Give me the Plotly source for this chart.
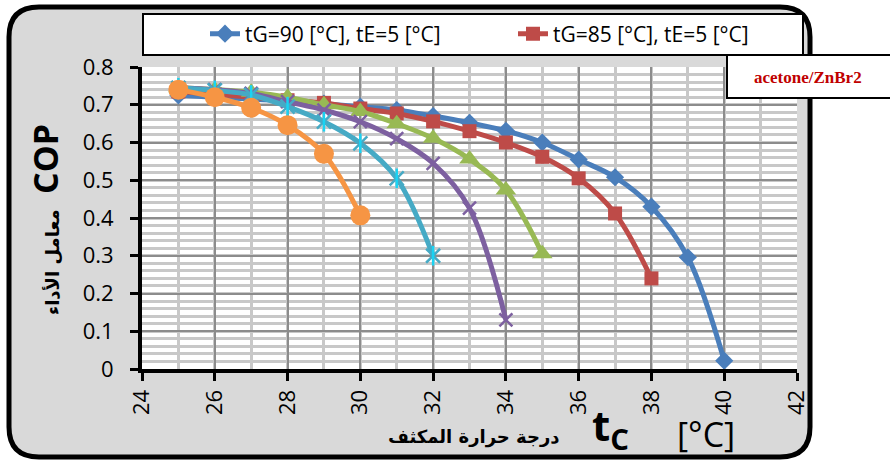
import plotly.graph_objects as go

# ---------------- data ----------------
tc_90 = [25, 26, 27, 28, 29, 30, 31, 32, 33, 34, 35, 36, 37, 38, 39, 40]
cop_90 = [0.725, 0.72, 0.715, 0.71, 0.703, 0.695, 0.686, 0.67, 0.652, 0.631, 0.60, 0.555, 0.508, 0.43, 0.296, 0.022]

tc_85 = [25, 26, 27, 28, 29, 30, 31, 32, 33, 34, 35, 36, 37, 38]
cop_85 = [0.735, 0.728, 0.72, 0.712, 0.705, 0.69, 0.677, 0.656, 0.63, 0.60, 0.562, 0.505, 0.412, 0.24]

tc_g = [25, 26, 27, 28, 29, 30, 31, 32, 33, 34, 35]
cop_g = [0.745, 0.74, 0.733, 0.72, 0.70, 0.682, 0.65, 0.611, 0.556, 0.474, 0.305]

tc_p = [25, 26, 27, 28, 29, 30, 31, 32, 33, 34]
cop_p = [0.745, 0.74, 0.73, 0.708, 0.686, 0.655, 0.61, 0.545, 0.426, 0.13]

tc_t = [25, 26, 27, 28, 29, 30, 31, 32]
cop_t = [0.745, 0.738, 0.726, 0.695, 0.655, 0.598, 0.505, 0.30]

tc_o = [25, 26, 27, 28, 29, 30]
cop_o = [0.74, 0.72, 0.692, 0.646, 0.57, 0.407]

legend_90 = "tG=90 [°C], tE=5 [°C]"
legend_85 = "tG=85 [°C], tE=5 [°C]"
y_ticks = [0, 0.1, 0.2, 0.3, 0.4, 0.5, 0.6, 0.7, 0.8]
y_tick_text = ["0", "0.1", "0.2", "0.3", "0.4", "0.5", "0.6", "0.7", "0.8"]
x_ticks = [24, 26, 28, 30, 32, 34, 36, 38, 40, 42]

# ---------------- geometry helpers (pixel -> paper) ----------------
W, H = 890, 461
ML, MR, MT, MB = 142, 93, 67, 92
PW, PH = W - ML - MR, H - MT - MB


def xp(px):
    return (px - ML) / PW


def yp(py):
    return (H - MB - py) / PH


BLUE = "#4a7ebb"
RED = "#be4b48"
GREEN = "#98b954"
PURPLE = "#7d60a0"
TEAL = "#46aac5"
ORANGE = "#f69544"
LW = 5

fig = go.Figure()
fig.add_trace(go.Scatter(x=tc_90, y=cop_90, name=legend_90, mode="lines+markers",
                         line=dict(color=BLUE, width=LW, shape="spline"),
                         marker=dict(symbol="diamond", size=14, color=BLUE), legend="legend"))
fig.add_trace(go.Scatter(x=tc_85, y=cop_85, name=legend_85, mode="lines+markers",
                         line=dict(color=RED, width=LW, shape="spline"),
                         marker=dict(symbol="square", size=14, color=RED), legend="legend2"))
fig.add_trace(go.Scatter(x=tc_g, y=cop_g, mode="lines+markers", showlegend=False,
                         line=dict(color=GREEN, width=LW, shape="spline"),
                         marker=dict(symbol="triangle-up", size=18, color=GREEN)))
fig.add_trace(go.Scatter(x=tc_p, y=cop_p, mode="lines+markers", showlegend=False,
                         line=dict(color=PURPLE, width=LW, shape="spline"),
                         marker=dict(symbol="x-thin-open", size=13, line=dict(color=PURPLE, width=2.5))))
fig.add_trace(go.Scatter(x=tc_t, y=cop_t, mode="lines+markers", showlegend=False,
                         line=dict(color=TEAL, width=LW, shape="spline"),
                         marker=dict(symbol="x-thin-open", size=14, line=dict(color=TEAL, width=2.5))))
fig.add_trace(go.Scatter(x=tc_t, y=cop_t, mode="markers", showlegend=False,
                         marker=dict(symbol="line-ns-open", size=14, line=dict(color=TEAL, width=2.5))))
fig.add_trace(go.Scatter(x=tc_o, y=cop_o, mode="lines+markers", showlegend=False,
                         line=dict(color=ORANGE, width=LW, shape="spline"),
                         marker=dict(symbol="circle", size=20, color=ORANGE)))

# ---------------- background shapes ----------------
L, T, R, B, rad = 9, 7, 810, 457, 30
rx, ry = rad / PW, rad / PH
path = (
    f"M {xp(L)+rx},{yp(T)} L {xp(R)-rx},{yp(T)} Q {xp(R)},{yp(T)} {xp(R)},{yp(T)-ry} "
    f"L {xp(R)},{yp(B)+ry} Q {xp(R)},{yp(B)} {xp(R)-rx},{yp(B)} "
    f"L {xp(L)+rx},{yp(B)} Q {xp(L)},{yp(B)} {xp(L)},{yp(B)+ry} "
    f"L {xp(L)},{yp(T)-ry} Q {xp(L)},{yp(T)} {xp(L)+rx},{yp(T)} Z"
)
shapes = [
    dict(type="path", xref="paper", yref="paper", path=path, fillcolor="#d9d9d9",
         line=dict(color="black", width=5), layer="below"),
    dict(type="rect", xref="paper", yref="paper", x0=0, x1=1, y0=0, y1=1,
         fillcolor="white", line=dict(width=0), layer="below"),
    dict(type="rect", xref="paper", yref="paper", x0=xp(143), x1=xp(803), y0=yp(55), y1=yp(14),
         fillcolor="white", line=dict(color="black", width=2), layer="below"),
    dict(type="rect", xref="paper", yref="paper", x0=xp(727), x1=xp(900), y0=yp(98), y1=yp(55),
         fillcolor="white", line=dict(color="black", width=2), layer="above"),
]

annotations = [
    dict(text="<b>acetone/ZnBr2</b>", x=xp(808), y=yp(78), xref="paper", yref="paper",
         showarrow=False, xanchor="center", yanchor="middle",
         font=dict(family="Liberation Serif", size=17, color="#c00000")),
    dict(text="<b>COP</b>", x=xp(45), y=yp(159), xref="paper", yref="paper", textangle=-90,
         showarrow=False, xanchor="center", yanchor="middle",
         font=dict(family="Open Sans", size=34, color="black")),
    dict(text="<b>معامل الأداء</b>", x=xp(52), y=yp(262), xref="paper", yref="paper", textangle=-90,
         showarrow=False, xanchor="center", yanchor="middle",
         font=dict(family="DejaVu Sans", size=18, color="black")),
    dict(text="<b>درجة حرارة المكثف</b>", x=xp(474), y=yp(437), xref="paper", yref="paper",
         showarrow=False, xanchor="center", yanchor="middle",
         font=dict(family="DejaVu Sans", size=18, color="black")),
    dict(text="<b>t</b><sub><b>C</b></sub>", x=xp(610), y=yp(427), xref="paper", yref="paper",
         showarrow=False, xanchor="center", yanchor="middle",
         font=dict(family="Open Sans", size=42, color="black")),
    dict(text="[°C]", x=xp(706), y=yp(434), xref="paper", yref="paper",
         showarrow=False, xanchor="center", yanchor="middle",
         font=dict(family="Open Sans", size=34, color="black")),
]

legend_common = dict(bgcolor="rgba(0,0,0,0)", borderwidth=0, orientation="h",
                     xanchor="left", yanchor="middle", xref="paper", yref="paper",
                     font=dict(family="Open Sans", size=21, color="black"))

fig.update_layout(
    width=W, height=H,
    margin=dict(l=ML, r=MR, t=MT, b=MB),
    paper_bgcolor="white", plot_bgcolor="white",
    shapes=shapes, annotations=annotations,
    legend=dict(x=xp(205), y=yp(34), **legend_common),
    legend2=dict(x=xp(513), y=yp(34), **legend_common),
    xaxis=dict(range=[24, 42], tickmode="array", tickvals=x_ticks,
               showgrid=True, gridcolor="#8c8c8c", gridwidth=1.5,
               minor=dict(tickmode="linear", tick0=24, dtick=1, showgrid=True,
                          gridcolor="#c8c8c8", gridwidth=2.5),
               showline=True, linecolor="black", linewidth=4,
               ticks="outside", ticklen=8, tickwidth=3, tickcolor="black",
               tickangle=-90, zeroline=False,
               tickfont=dict(family="Open Sans", size=22, color="black")),
    yaxis=dict(range=[0, 0.8], tickmode="array", tickvals=y_ticks, ticktext=y_tick_text,
               showgrid=True, gridcolor="#8c8c8c", gridwidth=1.5,
               minor=dict(tickmode="linear", tick0=0, dtick=0.02, showgrid=True,
                          gridcolor="#c8c8c8", gridwidth=2.5),
               showline=True, linecolor="black", linewidth=4,
               ticks="outside", ticklen=8, tickwidth=3, tickcolor="black",
               zeroline=False, ticklabelstandoff=12,
               tickfont=dict(family="Open Sans", size=22, color="black")),
)

fig.write_html("out.html")
